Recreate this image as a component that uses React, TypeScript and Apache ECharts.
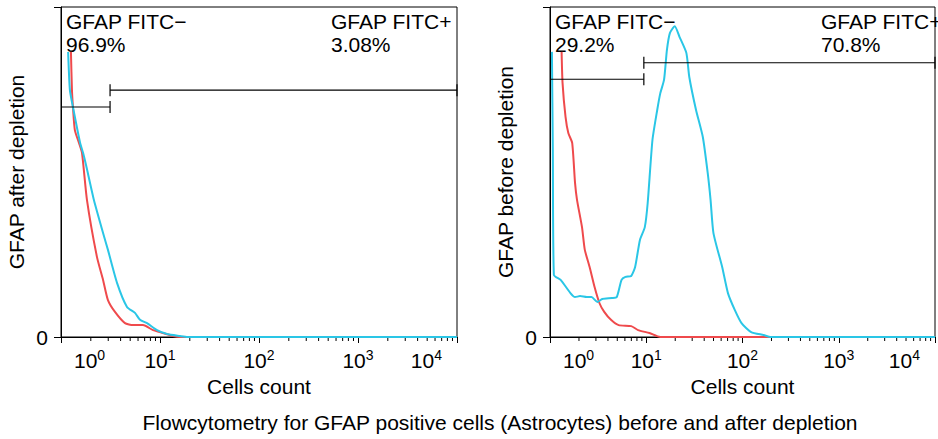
import React, { useEffect, useRef } from 'react';
import * as echarts from 'echarts';

const FONT = '"Liberation Sans", Arial, Helvetica, sans-serif';
const RED = '#ef4a4c';
const CYAN = '#2ac6e6';

// x tick label exponents (10^0 … 10^4)
const xTickExponents = ['0', '1', '2', '3', '4'];
// minor log ticks
const minorTickValues = [
  2, 3, 4, 5, 6, 7, 8, 9,
  20, 30, 40, 50, 60, 70, 80, 90,
  200, 300, 400, 500, 600, 700, 800, 900,
  2000, 3000, 4000, 5000, 6000, 7000, 8000, 9000,
];

// Left panel: after depletion
const afterRed: [number, number][] = [
  [1.26, 86.4], [1.29, 74.8], [1.32, 69.7], [1.38, 62.7], [1.52, 58.8], [1.63, 55.8],
  [1.83, 41.5], [2.31, 24.2], [2.66, 17.3], [2.98, 11.2], [3.51, 7.6], [4.43, 4.2],
  [5.34, 3.6], [6.73, 3.6], [8.5, 2.1], [10.7, 1.2], [13.5, 0.3], [16, 0], [10000, 0],
];
const afterCyan: [number, number][] = [
  [1.18, 86.4], [1.23, 74.8], [1.32, 69.7], [1.56, 58.8], [1.67, 55.8], [1.79, 52.1],
  [2.15, 41.5], [2.66, 31.5], [2.98, 26.4], [3.68, 16.4], [4.64, 9.1], [5.59, 7.3],
  [6.28, 5.2], [7.39, 4.2], [9.33, 2.1], [11.8, 0.9], [15.9, 0.3], [19, 0], [10000, 0],
];

// Right panel: before depletion
const beforeRed: [number, number][] = [
  [1.32, 86.4], [1.35, 77.0], [1.45, 66.7], [1.55, 61.8], [1.7, 58.8], [1.82, 46.7],
  [1.91, 41.5], [2.15, 33.3], [2.3, 26.4], [2.58, 21.2], [2.9, 15.2], [3.26, 10.3],
  [3.66, 7.6], [4.3, 5.2], [5.17, 3.6], [6.98, 3.3], [8.22, 2.1], [10.8, 1.2],
  [14.0, 0], [10000, 0],
];
const beforeCyan: [number, number][] = [
  [1.047, 86.4], [1.07, 56.7], [1.097, 18.8], [1.29, 17.3], [1.63, 13.3], [1.82, 12.1],
  [2.05, 12.4], [2.41, 12.1], [2.7, 12.1], [3.11, 10.6], [3.49, 11.5], [4.4, 11.8],
  [4.94, 12.1], [5.54, 17.3], [6.08, 18.2], [6.98, 18.5], [7.66, 21.2], [8.6, 29.4],
  [9.66, 33.3], [10.35, 40.6], [11.6, 59.7], [13.0, 68.8], [14.0, 73.9], [15.3, 77.9],
  [16.4, 87.0], [17.6, 92.1], [19.8, 94.2], [22.2, 90.9], [26.1, 86.1], [28.0, 78.8],
  [32.9, 68.8], [38.7, 60.6], [43.5, 49.7], [46.6, 41.5], [49.9, 31.5], [61.5, 21.2],
  [70.6, 13.3], [83.1, 8.2], [97.7, 4.2], [123, 1.5], [166, 0.6], [196, 0], [10000, 0],
];

// Gates: [xStart, xEnd, y, tickAtStart(1/0), tickAtEnd(1/0)]
const afterGates: number[][] = [
  [1, 3.13, 69.7, 0, 1],
  [3.13, 10000, 74.8, 1, 1],
];
const beforeGates: number[][] = [
  [1, 9.44, 78.1, 0, 1],
  [9.44, 10000, 83.1, 1, 1],
];

const gateLabelsAfter = ['GFAP FITC\u2212', '96.9%', 'GFAP FITC+', '3.08%'];
const gateLabelsBefore = ['GFAP FITC\u2212', '29.2%', 'GFAP FITC+', '70.8%'];

const panelNames = ['GFAP after depletion', 'GFAP before depletion'];
const xName = 'Cells count';
const caption = 'Flowcytometry for GFAP positive cells (Astrocytes) before and after depletion';

function makeXAxis(gridIndex: number) {
  return {
    type: 'log',
    logBase: 10,
    gridIndex,
    min: 1,
    max: 10000,
    splitNumber: 4,
    axisLine: { show: true, lineStyle: { color: '#000', width: 1 } },
    axisTick: { show: true, length: 6, lineStyle: { color: '#000', width: 1 } },
    splitLine: { show: false },
    axisLabel: {
      margin: 11,
      showMinLabel: true,
      showMaxLabel: true,
      alignMinLabel: 'left',
      alignMaxLabel: 'right',
      formatter: (v: number) => {
        const e = Math.round(Math.log10(v));
        const s = xTickExponents[e];
        if (e === 0) return `{bmin|10}{s|${s}}`;
        if (e === 4) return `{b|10}{smax|${s}}`;
        return `{b|10}{s|${s}}`;
      },
      rich: {
        b: { fontSize: 21, lineHeight: 24, color: '#000', fontFamily: FONT },
        bmin: { fontSize: 21, lineHeight: 24, color: '#000', fontFamily: FONT, padding: [0, 0, 0, 13] },
        s: { fontSize: 14, lineHeight: 10, verticalAlign: 'top', color: '#000', fontFamily: FONT },
        smax: { fontSize: 14, lineHeight: 10, verticalAlign: 'top', color: '#000', fontFamily: FONT, padding: [0, 15, 0, 0] },
      },
    },
    name: xName,
    nameLocation: 'middle',
    nameGap: 39,
    nameTextStyle: { fontSize: 21, color: '#000', fontFamily: FONT },
  };
}

function makeYAxis(gridIndex: number, name: string) {
  return {
    type: 'value',
    gridIndex,
    min: 0,
    max: 100,
    interval: 100,
    axisLine: { show: true, lineStyle: { color: '#000', width: 1 } },
    axisTick: { show: true, length: 7, lineStyle: { color: '#000', width: 1 } },
    splitLine: { show: false },
    axisLabel: {
      formatter: (v: number) => (v === 0 ? '0' : ''),
      fontSize: 21,
      color: '#000',
      fontFamily: FONT,
      margin: 13,
    },
    name,
    nameLocation: 'middle',
    nameGap: 34,
    nameTextStyle: { fontSize: 21, color: '#000', fontFamily: FONT },
  };
}

function curve(idx: number, data: [number, number][], color: string) {
  return {
    type: 'line',
    xAxisIndex: idx,
    yAxisIndex: idx,
    data,
    showSymbol: false,
    smooth: 0.2,
    lineStyle: { color, width: 2 },
    itemStyle: { color },
    silent: true,
    z: 3,
  };
}

function gateSeries(idx: number, data: number[][]) {
  return {
    type: 'custom',
    xAxisIndex: idx,
    yAxisIndex: idx,
    data,
    encode: { x: [0, 1], y: 2 },
    clip: false,
    silent: true,
    z: 4,
    renderItem: (_p: any, api: any) => {
      const a = api.coord([api.value(0), api.value(2)]);
      const b = api.coord([api.value(1), api.value(2)]);
      const st = { stroke: '#000', lineWidth: 1.2 };
      const children: any[] = [
        { type: 'line', shape: { x1: a[0], y1: a[1], x2: b[0], y2: b[1] }, style: st },
      ];
      if (api.value(3)) children.push({ type: 'line', shape: { x1: a[0], y1: a[1] - 6, x2: a[0], y2: a[1] + 6 }, style: st });
      if (api.value(4)) children.push({ type: 'line', shape: { x1: b[0], y1: b[1] - 6, x2: b[0], y2: b[1] + 6 }, style: st });
      return { type: 'group', children };
    },
  };
}

function minorTickSeries(idx: number) {
  return {
    type: 'custom',
    xAxisIndex: idx,
    yAxisIndex: idx,
    data: minorTickValues.map((v) => [v, 0]),
    clip: false,
    silent: true,
    z: 1,
    renderItem: (_p: any, api: any) => {
      const p = api.coord([api.value(0), 0]);
      return {
        type: 'line',
        shape: { x1: p[0], y1: p[1], x2: p[0], y2: p[1] + 4 },
        style: { stroke: '#000', lineWidth: 1 },
      };
    },
  };
}

function txt(x: number, y: number, text: string, size = 21, align = 'left') {
  return {
    type: 'text',
    x,
    y,
    silent: true,
    style: { text, fontSize: size, fontFamily: FONT, fill: '#000', textAlign: align, textVerticalAlign: 'middle' },
  };
}

export default function App() {
  const ref = useRef<HTMLDivElement>(null);
  useEffect(() => {
    if (!ref.current) return;
    const chart = echarts.init(ref.current, undefined, { renderer: 'svg' });
    chart.setOption({
      animation: false,
      backgroundColor: '#fff',
      grid: [
        { left: 61, top: 7, width: 396, height: 330, show: true, borderColor: '#000', borderWidth: 1, backgroundColor: 'transparent' },
        { left: 550, top: 7, width: 397, height: 330, show: true, borderColor: '#000', borderWidth: 1, backgroundColor: 'transparent' },
      ],
      xAxis: [makeXAxis(0), makeXAxis(1)],
      yAxis: [makeYAxis(0, panelNames[0]), makeYAxis(1, panelNames[1])],
      series: [
        curve(0, afterRed, RED),
        curve(0, afterCyan, CYAN),
        curve(1, beforeRed, RED),
        curve(1, beforeCyan, CYAN),
        gateSeries(0, afterGates),
        gateSeries(1, beforeGates),
        minorTickSeries(0),
        minorTickSeries(1),
      ],
      graphic: [
        txt(66, 21, gateLabelsAfter[0]),
        txt(66, 44, gateLabelsAfter[1]),
        txt(331, 21, gateLabelsAfter[2]),
        txt(331, 44, gateLabelsAfter[3]),
        txt(555, 21, gateLabelsBefore[0]),
        txt(555, 44, gateLabelsBefore[1]),
        txt(821, 21, gateLabelsBefore[2]),
        txt(821, 44, gateLabelsBefore[3]),
        txt(500, 422, caption, 21, 'center'),
      ],
    });
    return () => chart.dispose();
  }, []);
  return <div ref={ref} style={{ position: 'fixed', left: 0, top: 0, width: 938, height: 439 }} />;
}
